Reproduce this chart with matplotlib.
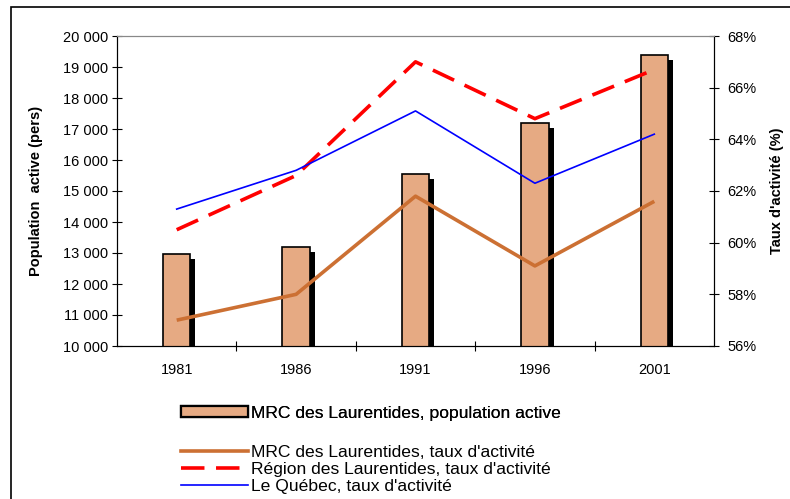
import matplotlib
matplotlib.use("Agg")
import matplotlib.pyplot as plt
import matplotlib.patheffects as pe
from matplotlib.patches import Rectangle
from matplotlib.lines import Line2D
from matplotlib.ticker import FuncFormatter, MultipleLocator

plt.rcParams['font.family'] = ['Liberation Sans', 'DejaVu Sans']

years = ['1981', '1986', '1991', '1996', '2001']
pop_mrc = [12970, 13200, 15540, 17200, 19390]
taux_mrc = [57.0, 58.0, 61.8, 59.1, 61.6]
taux_region = [60.5, 62.6, 67.0, 64.8, 66.7]
taux_quebec = [61.3, 62.8, 65.1, 62.3, 64.2]

x = list(range(len(years)))

fig = plt.figure(figsize=(7.9, 4.99), dpi=100)
# cadre exterieur
fig.patches.append(Rectangle((11/790, -0.1), 1.2, 1 - 7/499 + 0.1, transform=fig.transFigure,
                             fill=False, ec='black', lw=1.2, zorder=0))

ax = fig.add_axes([117/790, 1 - 346/499, 597/790, 310/499])
bars = ax.bar(x, pop_mrc, width=0.23, bottom=0, color='#E6AA83', edgecolor='black', lw=1.2, zorder=2)
for b in bars:
    b.set_path_effects([pe.SimplePatchShadow(offset=(3.6, -3.4), shadow_rgbFace='black', alpha=1.0),
                        pe.Normal()])
ax.set_xlim(-0.5, 4.5)
ax.set_ylim(10000, 20000)
ax.yaxis.set_major_locator(MultipleLocator(1000))
ax.yaxis.set_major_formatter(FuncFormatter(lambda v, p: f"{int(v):,}".replace(',', ' ')))
ax.set_xticks(x)
ax.set_xticklabels(years)
ax.set_xticks([0.5, 1.5, 2.5, 3.5], minor=True)
ax.tick_params(axis='x', which='major', length=0, pad=12, labelsize=10.5)
ax.tick_params(axis='x', which='minor', length=7, direction='inout', width=0.8)
ax.tick_params(axis='y', length=7, direction='inout', width=0.8, labelsize=10.5, pad=3)
ax.set_ylabel('Population  active (pers)', fontsize=10.5, fontweight='bold', labelpad=14)
ax.spines['top'].set_color('#888888')

ax2 = ax.twinx()
ax2.plot(x, taux_mrc, color='#CC7033', lw=2.6, solid_capstyle='butt')
ax2.plot(x, taux_region, color='#FF0000', lw=2.6, dashes=(6.5, 3.2), dash_capstyle='butt')
ax2.plot(x, taux_quebec, color='#0000FF', lw=1.2)
ax2.set_ylim(56, 68)
ax2.yaxis.set_major_locator(MultipleLocator(2))
ax2.yaxis.set_major_formatter(FuncFormatter(lambda v, p: f"{int(round(v))}%"))
ax2.tick_params(axis='y', length=7, direction='inout', width=0.8, labelsize=10.5, pad=6)
ax2.set_ylabel("Taux d'activité (%)", fontsize=10.5, fontweight='bold', labelpad=10)
ax2.spines['top'].set_color('#888888')

h_bar = Rectangle((0, 0), 1, 1, fc='#E6AA83', ec='black', lw=1.6)
leg1 = fig.legend([h_bar], ['MRC des Laurentides, population active'],
                  loc='upper left', bbox_to_anchor=(181/790, 1 - 406/499), frameon=False,
                  fontsize=12.6, handlelength=3.8, handleheight=0.6, handletextpad=0.2,
                  borderpad=0, borderaxespad=0)
h_lines = [Line2D([], [], color='#CC7033', lw=2.6),
           Line2D([], [], color='#FF0000', lw=2.6, dashes=(6.5, 3.2)),
           Line2D([], [], color='#0000FF', lw=1.2)]
fig.legend(h_lines, ["MRC des Laurentides, taux d'activité",
                     "Région des Laurentides, taux d'activité",
                     "Le Québec, taux d'activité"],
           loc='upper left', bbox_to_anchor=(181/790, 1 - 445/499), frameon=False,
           fontsize=12.6, handlelength=3.8, handletextpad=0.2, labelspacing=0.1,
           borderpad=0, borderaxespad=0)
fig.add_artist(leg1)

fig.savefig('out.png', dpi=100)
